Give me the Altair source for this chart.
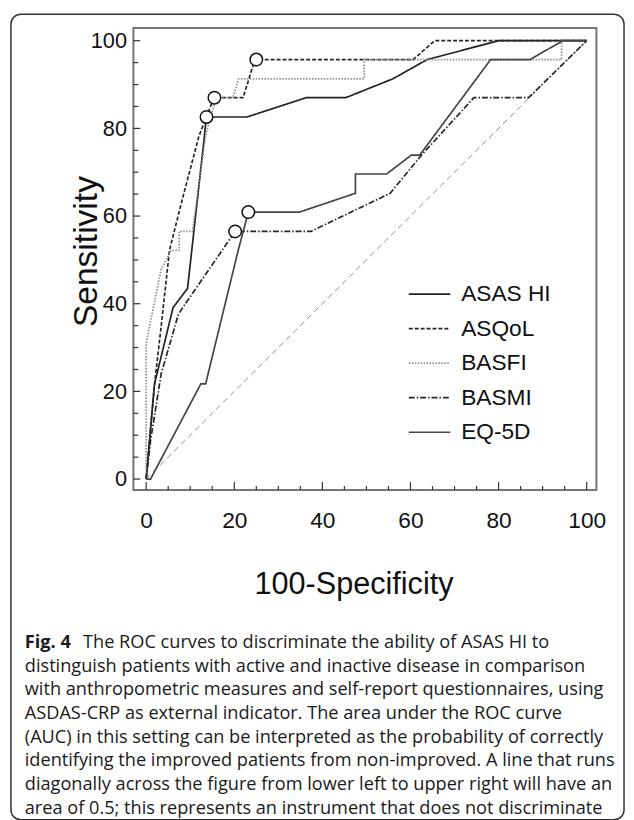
import altair as alt
import pandas as pd

# ---------------- data ----------------
series = ["ASAS HI", "ASQoL", "BASFI", "BASMI", "EQ-5D"]
colors = ["#222222", "#262626", "#8c8c8c", "#262626", "#444444"]
dashes = [[1, 0], [4, 2], [1.5, 1.5], [6, 2, 1.5, 2], [1, 0]]

asas_x = [0, 1.9, 6.1, 9.4, 13.7, 22.9, 36.3, 45.3, 56.0, 63.8, 80.0, 100]
asas_y = [0, 21.7, 39.1, 43.5, 82.6, 82.6, 87.0, 87.0, 91.3, 95.7, 100, 100]

asqol_x = [0, 1.9, 3.4, 5.3, 8.0, 12.0, 15.4, 22.0, 24.7, 60.6, 65.5, 100]
asqol_y = [0, 21.7, 34.8, 52.2, 63.0, 78.3, 87.0, 87.0, 95.7, 95.7, 100, 100]

basfi_x = [0, 0, 0, 1.2, 3.4, 5.7, 7.5, 7.5, 10.5, 13.5, 14.6, 16.0, 19.7, 21.0, 49.5, 49.5, 94.3, 94.3, 100]
basfi_y = [0, 20.0, 31.0, 37.0, 47.8, 52.2, 52.2, 56.5, 56.5, 78.3, 82.6, 87.0, 87.0, 91.3, 91.3, 95.7, 95.7, 100, 100]

basmi_x = [0, 1.0, 3.4, 7.3, 8.3, 20.2, 37.4, 55.4, 62.5, 74.4, 86.8, 100]
basmi_y = [0, 8.7, 24.0, 37.5, 39.1, 56.5, 56.5, 65.2, 73.9, 87.0, 87.0, 100]

eq_x = [0, 1.0, 12.4, 13.5, 20.9, 23.2, 34.8, 47.5, 47.5, 54.6, 60.2, 62.1, 78.2, 87.1, 94.6, 100]
eq_y = [0, 0, 21.7, 21.7, 52.2, 60.9, 60.9, 65.2, 69.6, 69.6, 73.9, 73.9, 95.7, 95.7, 100, 100]

cut_x = [13.7, 25.0, 15.5, 20.2, 23.2]
cut_y = [82.6, 95.7, 87.0, 56.5, 60.9]

diag_x = [0, 100]
diag_y = [0, 100]

x_major = [0, 20, 40, 60, 80, 100]
x_minor = [5, 10, 15, 25, 30, 35, 45, 50, 55, 65, 70, 75, 85, 90, 95]
y_major = [0, 20, 40, 60, 80, 100]
y_minor = [5, 10, 15, 25, 30, 35, 45, 50, 55, 65, 70, 75, 85, 90, 95]

caption_bold = "Fig. 4"
caption_first = "The ROC curves to discriminate the ability of ASAS HI to"
caption_rest = [
    "distinguish patients with active and inactive disease in comparison",
    "with anthropometric measures and self-report questionnaires, using",
    "ASDAS-CRP as external indicator. The area under the ROC curve",
    "(AUC) in this setting can be interpreted as the probability of correctly",
    "identifying the improved patients from non-improved. A line that runs",
    "diagonally across the figure from lower left to upper right will have an",
    "area of 0.5; this represents an instrument that does not discriminate",
]

# ---------------- tables ----------------
rows = []
for name, xs_, ys_ in zip(series, [asas_x, asqol_x, basfi_x, basmi_x, eq_x],
                          [asas_y, asqol_y, basfi_y, basmi_y, eq_y]):
    for i, (a, b) in enumerate(zip(xs_, ys_)):
        rows.append({"series": name, "x": a, "y": b, "idx": i})
df = pd.DataFrame(rows)
cuts = pd.DataFrame({"series": series, "x": cut_x, "y": cut_y})
diag = pd.DataFrame({"x": diag_x, "y": diag_y})
one = pd.DataFrame({"a": [0]})

W, H = 469, 468
TOP = 15
FONT = "Liberation Sans"
CAP = "Open Sans"
CAPSIZE = 18.4

xs = alt.Scale(domain=[-2.9, 102.2], nice=False, zero=False)
ys = alt.Scale(domain=[-2.5, 102.9], nice=False, zero=False)

x_axis = alt.Axis(values=x_major, ticks=False, tickSize=0, domain=False, grid=False,
                  labelFont=FONT, labelFontSize=23, labelColor="#111", labelPadding=20,
                  labelFlush=False, format="d",
                  title="100-Specificity", titleFont=FONT, titleFontSize=31,
                  titleFontWeight="normal", titleColor="#111", titleX=223, titleY=105,
                  titleAlign="center", titleBaseline="alphabetic")
y_axis = alt.Axis(values=y_major, ticks=False, tickSize=0, domain=False, grid=False,
                  labelFont=FONT, labelFontSize=22, labelColor="#111", labelPadding=7,
                  labelFlush=False, format="d",
                  title="Sensitivity", titleFont=FONT, titleFontSize=34,
                  titleFontWeight="normal", titleColor="#111", titleAngle=270,
                  titleX=-37, titleY=226, titleAlign="center", titleBaseline="alphabetic")

X = alt.X("x:Q", scale=xs, axis=x_axis)
Y = alt.Y("y:Q", scale=ys, axis=y_axis)

leg = alt.Legend(title=None, orient="none", legendX=278, legendY=253,
                 symbolType="stroke", symbolSize=1764, symbolStrokeWidth=1.7,
                 labelFont=FONT, labelFontSize=23, labelColor="#111", labelOffset=10,
                 clipHeight=33, rowPadding=2, padding=0, labelLimit=300)

border = alt.Chart(one).mark_rect(fillOpacity=0, stroke="#333", strokeWidth=1.5,
                                  cornerRadius=10).encode(
    x=alt.value(-124), x2=alt.value(497), y=alt.value(-TOP + 1), y2=alt.value(802))

frame = alt.Chart(one).mark_rect(fillOpacity=0, stroke="#777", strokeWidth=2).encode(
    x=alt.value(0), x2=alt.value(W), y=alt.value(0), y2=alt.value(H))

diag_layer = alt.Chart(diag).mark_line(color="#8f8f8f", strokeWidth=1,
                                       strokeDash=[6, 4]).encode(x=X, y=Y)

lines = alt.Chart(df).mark_line(strokeWidth=1.7).encode(
    x=X, y=Y,
    color=alt.Color("series:N", scale=alt.Scale(domain=series, range=colors), legend=leg),
    strokeDash=alt.StrokeDash("series:N", scale=alt.Scale(domain=series, range=dashes), legend=leg),
    order=alt.Order("idx:Q"),
)

pts = alt.Chart(cuts).mark_point(shape="circle", size=160, filled=True, fill="white",
                                 stroke="#111", strokeWidth=1.5, opacity=1).encode(x=X, y=Y)

def xticks(vals, ln):
    return alt.Chart(pd.DataFrame({"x": vals})).mark_rule(color="#333", strokeWidth=1.2).encode(
        x=X, y=alt.value(H), y2=alt.value(H - ln))

def yticks(vals, ln):
    return alt.Chart(pd.DataFrame({"y": vals})).mark_rule(color="#333", strokeWidth=1.2).encode(
        y=Y, x=alt.value(0), x2=alt.value(ln))

cap1 = alt.Chart(one).mark_text(text=caption_bold, font=CAP, fontSize=CAPSIZE, fontWeight="bold",
                                align="left", baseline="alphabetic", color="#1a1a1a").encode(
    x=alt.value(-110), y=alt.value(628))
cap2 = alt.Chart(one).mark_text(text=caption_first, font=CAP, fontSize=CAPSIZE,
                                align="left", baseline="alphabetic", color="#1a1a1a").encode(
    x=alt.value(-51), y=alt.value(628))
cap3 = alt.Chart(one).mark_text(text=caption_rest, font=CAP, fontSize=CAPSIZE, lineHeight=24,
                                align="left", baseline="alphabetic", color="#1a1a1a").encode(
    x=alt.value(-110), y=alt.value(652))

chart = alt.layer(
    border, frame, diag_layer, lines, pts,
    xticks(x_major, 8), xticks(x_minor, 4), yticks(y_major, 7), yticks(y_minor, 5),
    cap1, cap2, cap3,
).properties(
    width=W, height=H,
    autosize=alt.AutoSizeParams(type="none"),
    padding={"left": 127, "top": TOP, "right": 30, "bottom": 812 - TOP - H},
).configure_view(stroke=None).configure(background="white")

chart.save("out.html", embed_options={"renderer": "svg", "actions": False})
